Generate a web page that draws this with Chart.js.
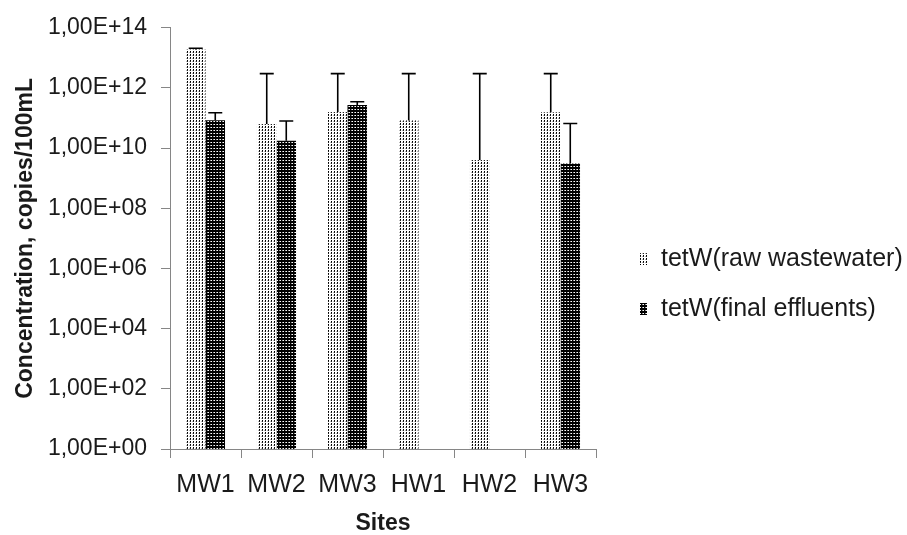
<!DOCTYPE html>
<html>
<head>
<meta charset="utf-8">
<script src="https://cdn.jsdelivr.net/npm/chart.js@4"></script>
<style>
  html, body { margin: 0; padding: 0; background: #fff; }
  #wrap { width: 907px; height: 535px; position: relative; }
</style>
</head>
<body>
<div id="wrap"><canvas id="chart"></canvas></div>
<script>
// 데이터
const sites = ['MW1', 'MW2', 'MW3', 'HW1', 'HW2', 'HW3'];
const rawValues   = [1.9e13, 6.3e10, 1.6e11, 8.3e10, 4.0e9, 1.55e11];
const rawUpper    = [2.1e13, 3.0e12, 3.0e12, 3.0e12, 3.0e12, 3.0e12];
const finalValues = [8.5e10, 1.75e10, 2.7e11, null, null, 3.1e9];
const finalUpper  = [1.5e11, 8.0e10, 3.5e11, null, null, 6.6e10];
const yTicks = [1e0, 1e2, 1e4, 1e6, 1e8, 1e10, 1e12, 1e14];

const FONT = "'Liberation Sans', Arial, sans-serif";
const AXIS = '#868686';
const TEXT = '#1a1a1a';

// 패턴 만들기
function makePattern(bg, dots) {
  const c = document.createElement('canvas');
  c.width = 3; c.height = 3;
  const g = c.getContext('2d');
  g.fillStyle = bg;
  g.fillRect(0, 0, 3, 3);
  dots.forEach(d => { g.fillStyle = d[2]; g.fillRect(d[0], d[1], 1, 1); });
  return g.createPattern(c, 'repeat');
}
const rawPattern   = makePattern('#fff', [[1, 0, '#000'], [1, 1, '#222'], [0, 1, '#bbb']]);
const finalPattern = makePattern('#000', [[1, 1, '#fff'], [0, 1, '#999']]);

// 에러바 (위쪽만)
const errorBars = {
  id: 'errorBars',
  afterDatasetsDraw(chart) {
    const ctx = chart.ctx;
    const y = chart.scales.y;
    const uppers = [rawUpper, finalUpper];
    ctx.save();
    ctx.strokeStyle = '#000';
    ctx.lineWidth = 1.6;
    chart.data.datasets.forEach((ds, di) => {
      const meta = chart.getDatasetMeta(di);
      meta.data.forEach((bar, i) => {
        const up = uppers[di][i];
        if (ds.data[i] == null || up == null) return;
        const yTop = y.getPixelForValue(up);
        ctx.beginPath();
        ctx.moveTo(bar.x, bar.y);
        ctx.lineTo(bar.x, yTop);
        ctx.moveTo(bar.x - 7, yTop);
        ctx.lineTo(bar.x + 7, yTop);
        ctx.stroke();
      });
    });
    ctx.restore();
  }
};

// 오른쪽 범례
const sideLegend = {
  id: 'sideLegend',
  afterDraw(chart) {
    const ctx = chart.ctx;
    const rows = [259, 309];
    ctx.save();
    ctx.font = '25px ' + FONT;
    ctx.textBaseline = 'middle';
    chart.data.datasets.forEach((ds, i) => {
      const yy = rows[i];
      ctx.fillStyle = ds.backgroundColor;
      ctx.fillRect(640, yy - 6, 7, 12);
      ctx.fillStyle = TEXT;
      ctx.fillText(ds.label, 661, yy);
    });
    ctx.restore();
  }
};

new Chart(document.getElementById('chart'), {
  type: 'bar',
  data: {
    labels: sites,
    datasets: [
      { label: 'tetW(raw wastewater)', data: rawValues, backgroundColor: rawPattern, borderWidth: 0 },
      { label: 'tetW(final effluents)', data: finalValues, backgroundColor: finalPattern, borderWidth: 0 }
    ]
  },
  options: {
    responsive: true,
    maintainAspectRatio: false,
    animation: false,
    layout: { padding: { top: 25, right: 311, left: 0, bottom: 0 } },
    datasets: { bar: { categoryPercentage: 0.55, barPercentage: 1.0 } },
    plugins: {
      legend: { display: false },
      tooltip: { enabled: false }
    },
    scales: {
      x: {
        grid: { display: true, drawOnChartArea: false, drawTicks: true, tickLength: 9, color: AXIS, offset: true },
        border: { display: true, color: AXIS, width: 1 },
        ticks: { color: TEXT, font: { family: FONT, size: 25 }, padding: 12 },
        title: { display: true, text: 'Sites', color: TEXT, font: { family: FONT, size: 23, weight: 'bold', lineHeight: 1 }, padding: { top: 0, bottom: 0 } },
        afterFit(s) { s.height = 86; }
      },
      y: {
        type: 'logarithmic',
        min: 1,
        max: 1e14,
        grid: { display: true, drawOnChartArea: false, drawTicks: true, tickLength: 9, color: AXIS },
        border: { display: true, color: AXIS, width: 1 },
        afterBuildTicks(s) { s.ticks = yTicks.map(v => ({ value: v })); },
        ticks: {
          color: TEXT,
          font: { family: FONT, size: 23 },
          padding: 14,
          autoSkip: false,
          callback: v => '1,00E+' + String(Math.round(Math.log10(v))).padStart(2, '0')
        },
        title: { display: true, text: 'Concentration, copies/100mL', color: TEXT, font: { family: FONT, size: 23, weight: 'bold' }, padding: { top: 12, bottom: 0 } },
        afterFit(s) { s.width = 170; }
      }
    }
  },
  plugins: [errorBars, sideLegend]
});
</script>
</body>
</html>
